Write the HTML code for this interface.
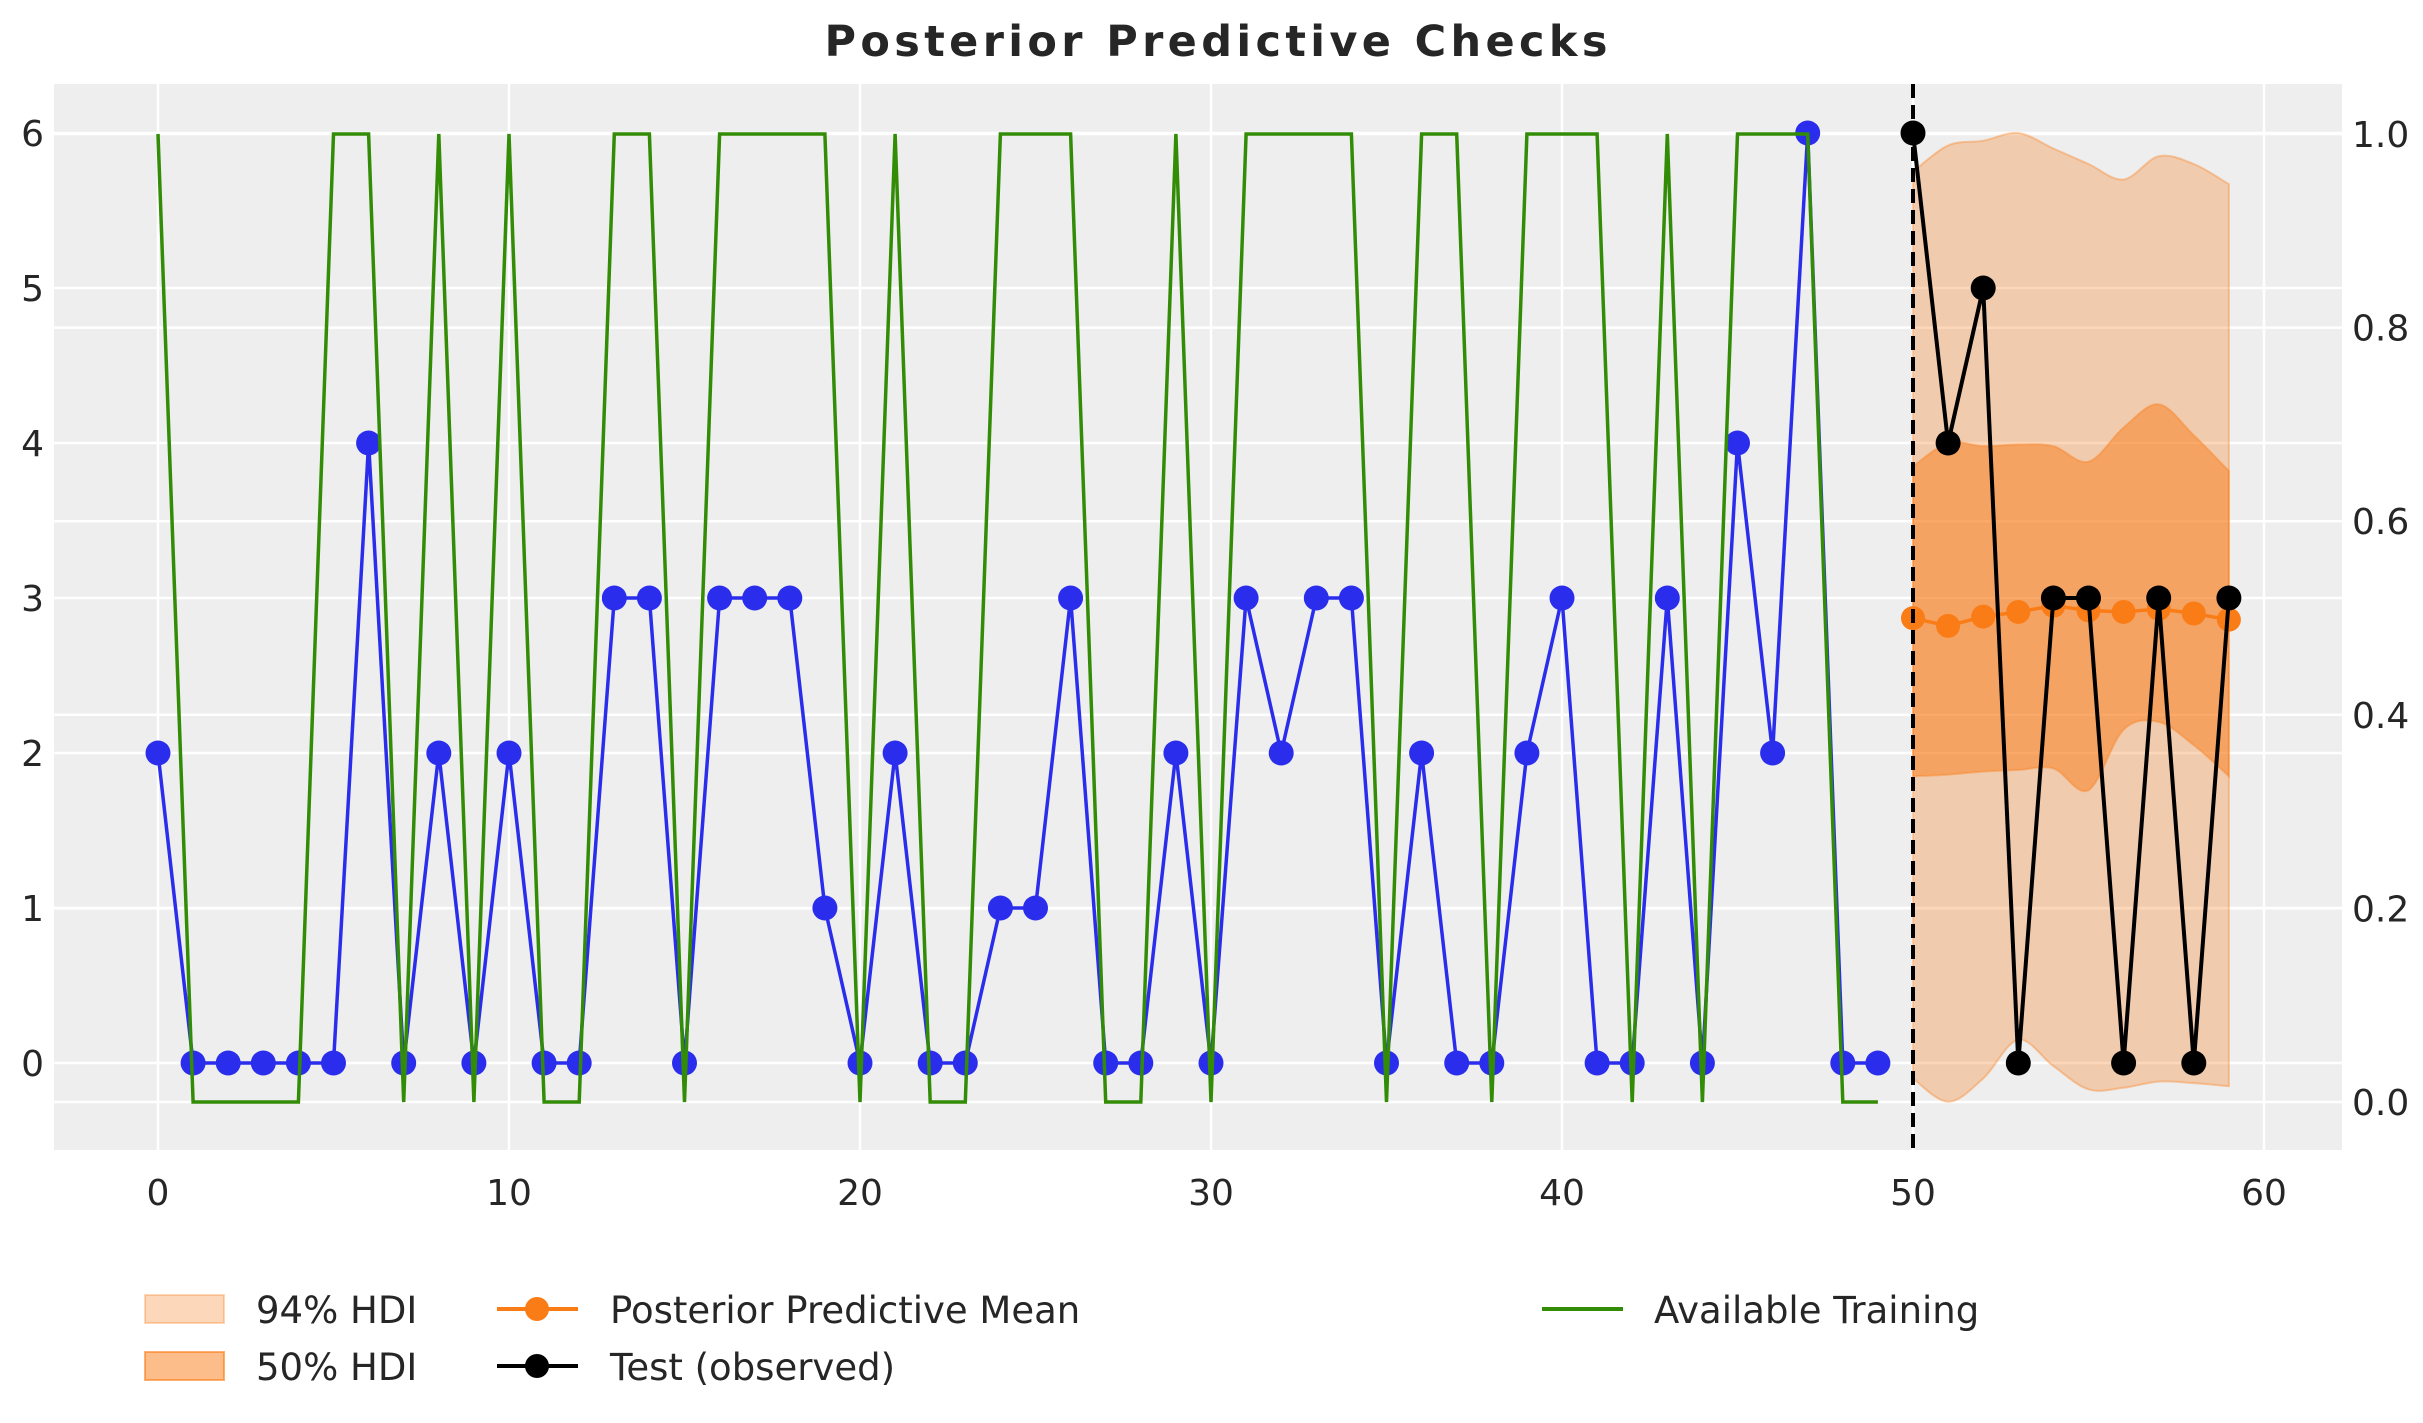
<!DOCTYPE html>
<html><head><meta charset="utf-8"><style>
html,body{margin:0;padding:0;background:#fff;}
svg{display:block;font-family:"DejaVu Sans","Liberation Sans",sans-serif;}
</style></head><body>
<svg id="chart" width="2423" height="1423" viewBox="0 0 2423 1423">
<text x="1216" y="56" text-anchor="middle" font-size="43" font-weight="bold" fill="#262626" textLength="783">Posterior Predictive Checks</text>
<rect x="54" y="84" width="2288" height="1066" fill="#eeeeee"/>
<g id="grid"></g>
<g id="bands"></g>
<g id="series"></g>
<g id="axes"></g>
<g>
 <rect x="145" y="1295" width="79" height="28" fill="#fa7c17" fill-opacity="0.3" stroke="#fa7c17" stroke-opacity="0.3" stroke-width="2"/>
 <text x="256" y="1323" font-size="37" fill="#262626">94% HDI</text>
 <rect x="145" y="1352" width="79" height="28" fill="#fa7c17" fill-opacity="0.5" stroke="#fa7c17" stroke-opacity="0.6" stroke-width="2"/>
 <text x="256" y="1380" font-size="37" fill="#262626">50% HDI</text>
 <line x1="497" y1="1309" x2="578" y2="1309" stroke="#fa7c17" stroke-width="4"/>
 <circle cx="537" cy="1309" r="12" fill="#fa7c17"/>
 <text x="610" y="1323" font-size="37" fill="#262626">Posterior Predictive Mean</text>
 <line x1="497" y1="1366" x2="578" y2="1366" stroke="#000" stroke-width="4"/>
 <circle cx="537" cy="1366" r="12" fill="#000"/>
 <text x="610" y="1380" font-size="37" fill="#262626">Test (observed)</text>
 <line x1="1542" y1="1309" x2="1623" y2="1309" stroke="#328c06" stroke-width="4"/>
 <text x="1654" y="1323" font-size="37" fill="#262626">Available Training</text>
</g>
</svg>
<script>
const trainValues = [2,0,0,0,0,0,4,0,2,0,2,0,0,3,3,0,3,3,3,1,0,2,0,0,1,1,3,0,0,2,0,3,2,3,3,0,2,0,0,2,3,0,0,3,0,4,2,6,0,0];
const availableTraining = [1,0,0,0,0,1,1,0,1,0,1,0,0,1,1,0,1,1,1,1,0,1,0,0,1,1,1,0,0,1,0,1,1,1,1,0,1,1,0,1,1,1,0,1,0,1,1,1,0,0];
const testValues = [6,4,5,0,3,3,0,3,0,3];
const meanValues = [2.87,2.82,2.88,2.91,2.95,2.92,2.91,2.93,2.90,2.86];
const hdi94Upper = [5.75,5.92,5.95,6.0,5.9,5.8,5.7,5.85,5.8,5.67];
const hdi94Lower = [-0.1,-0.25,-0.1,0.15,-0.02,-0.17,-0.16,-0.12,-0.13,-0.15];
const hdi50Upper = [3.85,4.0,3.98,3.99,3.98,3.88,4.1,4.25,4.05,3.82];
const hdi50Lower = [1.85,1.86,1.88,1.89,1.9,1.76,2.15,2.2,2.05,1.85];
const testStart = 50;
const xTicks = [0,10,20,30,40,50,60];
const yTicks = [0,1,2,3,4,5,6];
const y2Ticks = ["0.0","0.2","0.4","0.6","0.8","1.0"];

const NS = "http://www.w3.org/2000/svg";
const X = v => 158 + 35.1 * v;
const Y = v => 1063 - 155 * v;
const Y2 = v => 1102 - 968 * v;
function mk(tag, attrs, parent){const e=document.createElementNS(NS,tag);for(const k in attrs)e.setAttribute(k,attrs[k]);parent.appendChild(e);return e;}
const grid=document.getElementById('grid'), axes=document.getElementById('axes'), bands=document.getElementById('bands'), series=document.getElementById('series');

xTicks.forEach(t=>{
  const l=mk('line',{x1:X(t),x2:X(t),y1:84,y2:1150,stroke:'#fff','stroke-width':2.5},grid);
  
  
  const tx=mk('text',{x:X(t),y:1205,'text-anchor':'middle','font-size':36,fill:'#262626'},axes);
  tx.textContent=t;
  
  
});
yTicks.forEach(t=>{
  const l=mk('line',{x1:54,x2:2342,y1:Y(t),y2:Y(t),stroke:'#fff','stroke-width':2.5},grid);
  
  
  const tx=mk('text',{x:44,y:Y(t)+13,'text-anchor':'end','font-size':36,fill:'#262626'},axes);
  tx.textContent=t;
  
  
});
y2Ticks.forEach(t=>{
  const l=mk('line',{x1:54,x2:2342,y1:Y2(+t),y2:Y2(+t),stroke:'#fff','stroke-width':2.5},grid);
  
  
  const tx=mk('text',{x:2352,y:Y2(+t)+13,'text-anchor':'start','font-size':36,fill:'#262626'},axes);
  tx.textContent=t;
  
  
});

function smooth(pts){
  let d='';
  for(let i=0;i<pts.length-1;i++){
    const p0=pts[Math.max(0,i-1)],p1=pts[i],p2=pts[i+1],p3=pts[Math.min(pts.length-1,i+2)];
    const c1=[p1[0]+(p2[0]-p0[0])/6,p1[1]+(p2[1]-p0[1])/6];
    const c2=[p2[0]-(p3[0]-p1[0])/6,p2[1]-(p3[1]-p1[1])/6];
    d+=` C${c1[0]},${c1[1]} ${c2[0]},${c2[1]} ${p2[0]},${p2[1]}`;
  }
  return d;
}
function band(up,lo,op,name){
  const upPts=up.map((v,i)=>[X(testStart+i),Y(v)]);
  const loPts=lo.map((v,i)=>[X(testStart+i),Y(v)]).reverse();
  const d='M'+upPts[0][0]+','+upPts[0][1]+smooth(upPts)+' L'+loPts[0][0]+','+loPts[0][1]+smooth(loPts)+' Z';
  const p=mk('path',{d:d,fill:'#fa7c17','fill-opacity':op,stroke:'#fa7c17','stroke-opacity':0.35,'stroke-width':2},bands);
  
  
}
band(hdi94Upper,hdi94Lower,0.3,'hdi-94-band');
band(hdi50Upper,hdi50Lower,0.5,'hdi-50-band');

function line(vals,start,yf,color,w,name){
  const pts=vals.map((v,i)=>X(start+i)+','+yf(v)).join(' ');
  const p=mk('polyline',{points:pts,fill:'none',stroke:color,'stroke-width':w,'stroke-linejoin':'miter'},series);
  
  
}
function dots(vals,start,yf,color,r,name){
  vals.forEach((v,i)=>{
    const c=mk('circle',{cx:X(start+i),cy:yf(v),r:r,fill:color},series);
    
    
  });
}
line(trainValues,0,Y,'#2a2eec',3.5,'train-line');
dots(trainValues,0,Y,'#2a2eec',12.5,'train-point');
line(availableTraining,0,Y2,'#328c06',3.5,'available-training-line');
line(meanValues,testStart,Y,'#fa7c17',3.5,'mean-line');
dots(meanValues,testStart,Y,'#fa7c17',12,'mean-point');
line(testValues,testStart,Y,'#000',4,'test-line');
dots(testValues,testStart,Y,'#000',12.5,'test-point');
const vl=mk('line',{x1:X(testStart),x2:X(testStart),y1:84,y2:1150,stroke:'#000','stroke-width':4,'stroke-dasharray':'14,7'},series);


</script>
</body></html>
